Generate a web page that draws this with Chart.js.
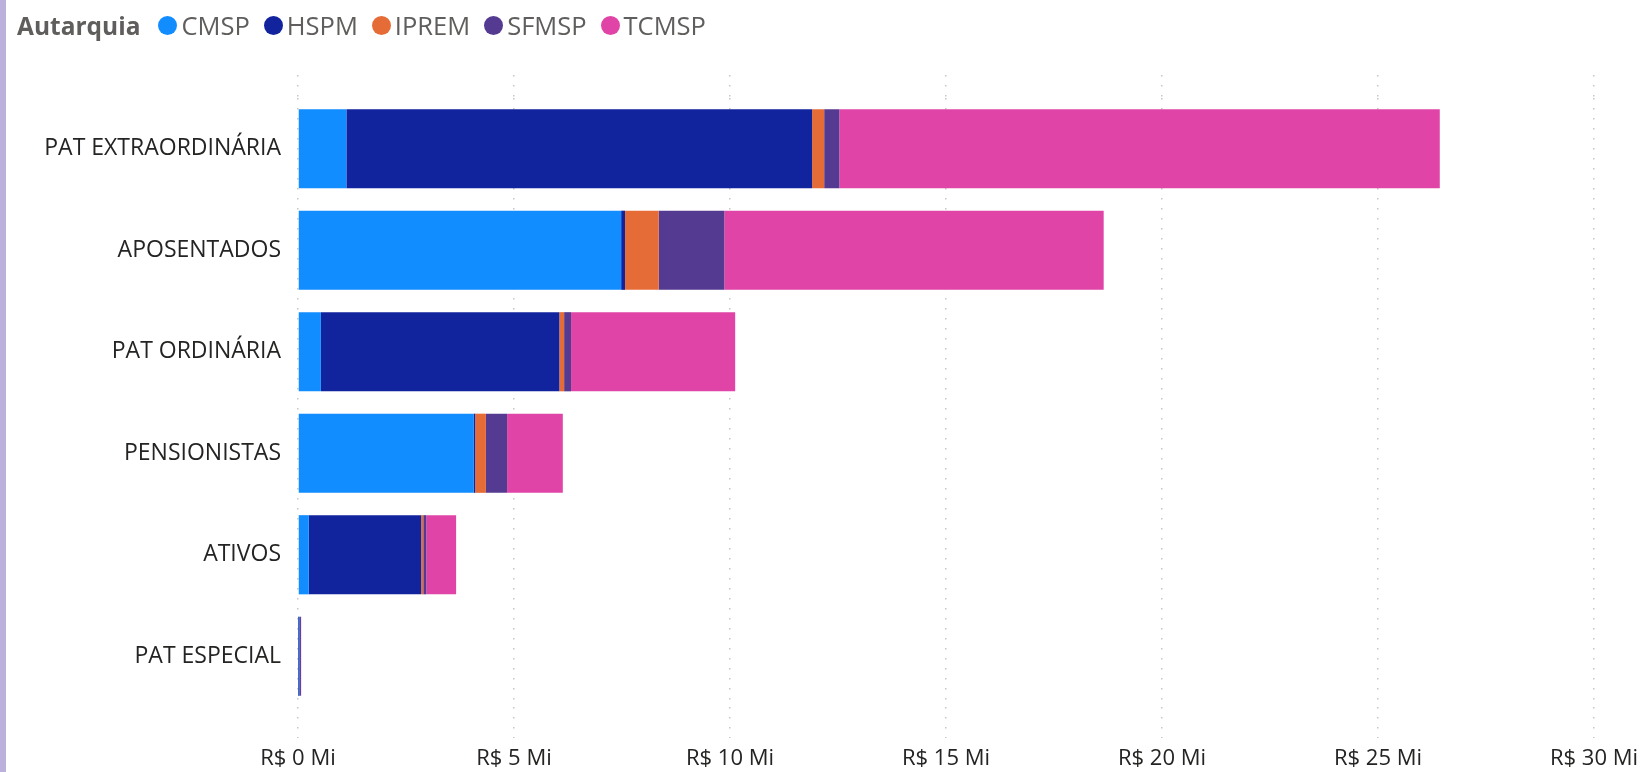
<!DOCTYPE html>
<html>
<head>
<meta charset="utf-8">
<script src="https://cdn.jsdelivr.net/npm/chart.js@4"></script>
<style>
  html, body { margin: 0; padding: 0; background: #fff; }
  body { width: 1641px; height: 772px; position: relative; overflow: hidden; }
  #sidebar { position: absolute; left: 0; top: 0; width: 6px; height: 772px; background: #bcb0dc; }
  #legend { position: absolute; left: 17px; top: 8px; display: flex; align-items: center;
    font-family: "Open Sans", sans-serif; font-size: 25.5px; color: #605e5c; }
  #legend .title { font-weight: bold; font-size: 24.5px; margin-right: 18px; }
  #legend .item { display: flex; align-items: center; margin-right: 14px; }
  #legend .dot { width: 19px; height: 19px; border-radius: 50%; margin-right: 4px; }
  #wrap { position: absolute; left: 0; top: 0; width: 1641px; height: 772px; }
</style>
</head>
<body>
<div id="sidebar"></div>
<div id="wrap"><canvas id="myChart"></canvas></div>
<div id="legend"><span class="title">Autarquia</span></div>
<script>
//DATA (VALUES IN R$ MILLIONS)
const categories = [
  "PAT EXTRAORDINÁRIA",
  "APOSENTADOS",
  "PAT ORDINÁRIA",
  "PENSIONISTAS",
  "ATIVOS",
  "PAT ESPECIAL",
];
const seriesNames = ["CMSP", "HSPM", "IPREM", "SFMSP", "TCMSP"];
const cmsp = [1.12, 7.48, 0.53, 4.07, 0.25, 0.005];
const hspm = [10.78, 0.09, 5.52, 0.03, 2.6, 0.03];
const iprem = [0.28, 0.78, 0.11, 0.25, 0.05, 0.003];
const sfmsp = [0.35, 1.52, 0.16, 0.49, 0.07, 0.03];
const tcmsp = [13.9, 8.78, 3.8, 1.29, 0.69, 0.005];
const xTicks = [0, 5, 10, 15, 20, 25, 30];

const colors = ["#118dff", "#12239e", "#e66c37", "#553a91", "#e044a7"];
const allSeries = [cmsp, hspm, iprem, sfmsp, tcmsp];

const datasets = seriesNames.map((name, i) => ({
  label: name,
  data: allSeries[i],
  backgroundColor: colors[i],
  borderWidth: 0,
  categoryPercentage: 1,
  barPercentage: 0.78,
}));

//DOTTED GRID STYLE
const gridStyle = {
  color: "#c8c6c4",
  lineWidth: 1.5,
  tickColor: "#c8c6c4",
  tickWidth: 1.5,
  tickBorderDash: [1.5, 8.5],
};
const dottedBorder = { display: false, dash: [1.5, 8.5] };

//HTML LEGEND (INLINE TITLE LIKE THE REFERENCE)
const htmlLegend = {
  id: "htmlLegend",
  afterUpdate(chart) {
    const box = document.getElementById("legend");
    box.querySelectorAll(".item").forEach((el) => el.remove());
    chart.options.plugins.legend.labels
      .generateLabels(chart)
      .forEach((item) => {
        const el = document.createElement("span");
        el.className = "item";
        const dot = document.createElement("span");
        dot.className = "dot";
        dot.style.background = item.fillStyle;
        el.appendChild(dot);
        el.appendChild(document.createTextNode(item.text));
        box.appendChild(el);
      });
  },
};

Chart.defaults.font.family = "'Open Sans', sans-serif";

new Chart(document.getElementById("myChart"), {
  type: "bar",
  data: { labels: categories, datasets: datasets },
  options: {
    indexAxis: "y",
    responsive: true,
    maintainAspectRatio: false,
    animation: false,
    layout: { padding: { top: 75, right: 0, left: 0, bottom: 0 } },
    plugins: {
      legend: { display: false },
      tooltip: { enabled: false },
    },
    scales: {
      x: {
        stacked: true,
        min: 0,
        max: 30,
        afterBuildTicks(scale) {
          scale.ticks = xTicks.map((v) => ({ value: v }));
        },
        grid: Object.assign({ tickLength: 31 }, gridStyle),
        border: dottedBorder,
        ticks: {
          padding: 8,
          color: "#252423",
          font: { size: 22 },
          callback: (v) => "R$ " + v + " Mi",
        },
        afterFit(scale) {
          scale.height = 65;
          scale.paddingRight = 47;
        },
      },
      x2: {
        position: "top",
        min: 0,
        max: 30,
        afterBuildTicks(scale) {
          scale.ticks = xTicks.map((v) => ({ value: v }));
        },
        grid: Object.assign({ tickLength: 23, drawOnChartArea: false }, gridStyle),
        border: dottedBorder,
        ticks: { display: false },
      },
      y: {
        stacked: true,
        grid: { display: false },
        border: { display: false },
        ticks: { padding: 9, color: "#252423", font: { size: 23 } },
        afterFit(scale) {
          scale.width = 298;
        },
      },
    },
  },
  plugins: [htmlLegend],
});
</script>
</body>
</html>
